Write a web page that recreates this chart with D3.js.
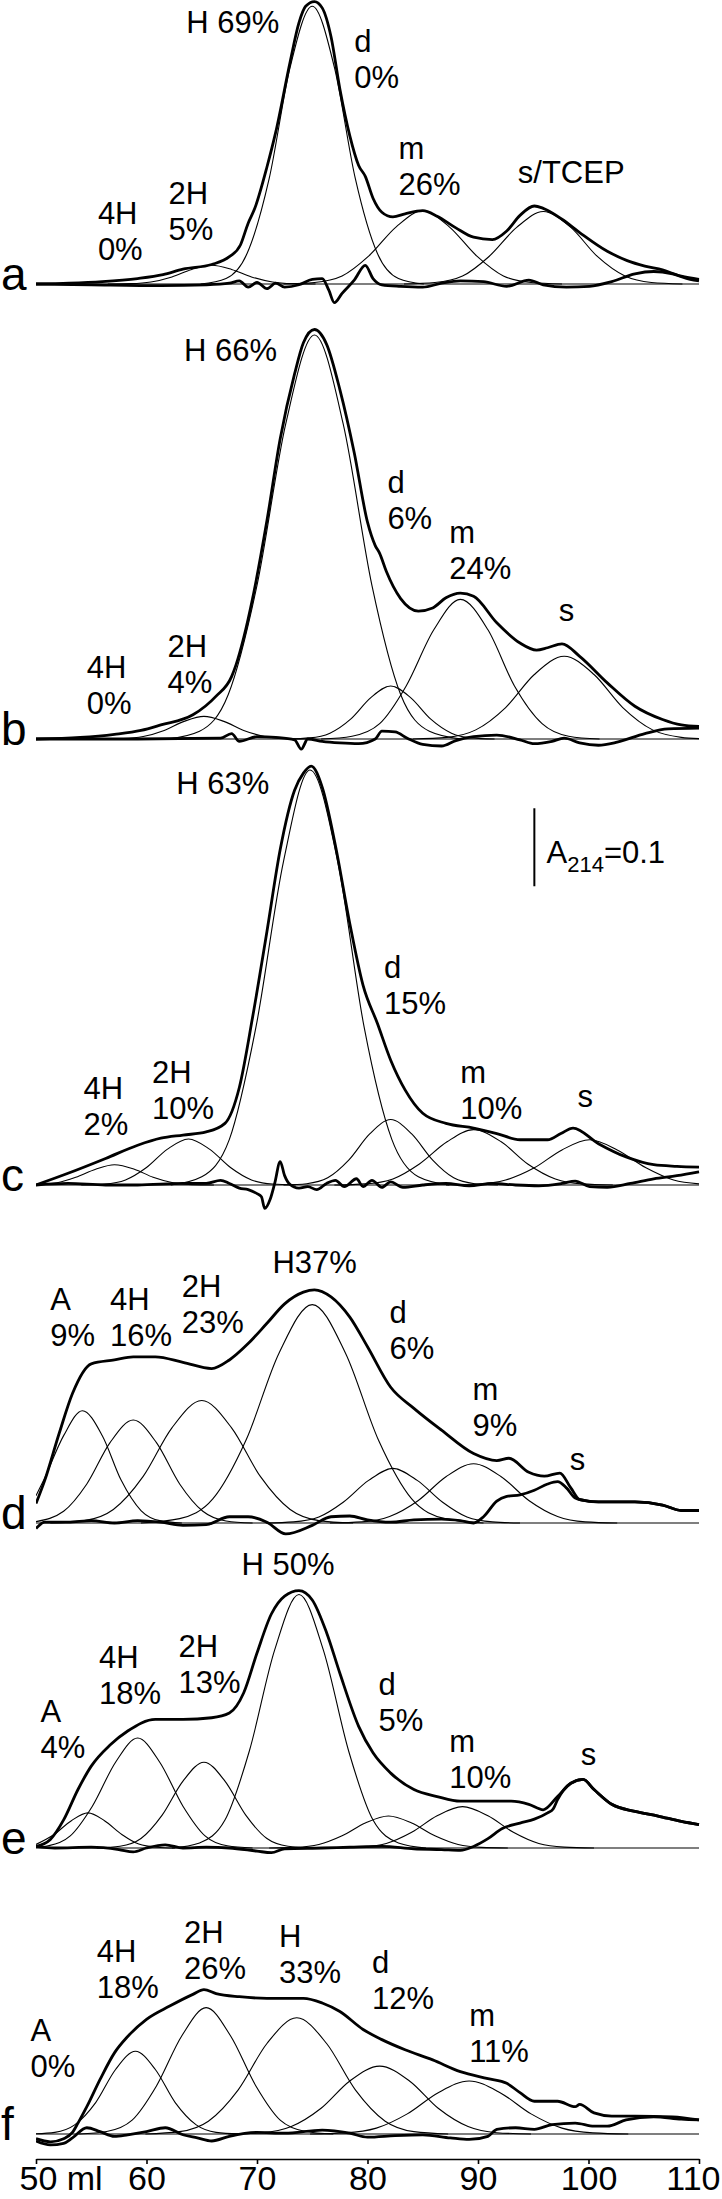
<!DOCTYPE html>
<html>
<head>
<meta charset="utf-8">
<title>SEC deconvolution a-f</title>
<script src="https://cdn.jsdelivr.net/npm/d3@7"></script>
<style>
  body { margin: 0; background: #fff; }
  svg text { font-family: "Liberation Sans", Arial, Helvetica, sans-serif; fill: #000; }
</style>
</head>
<body>
<svg id="chart" width="722" height="2199"></svg>
<script>
// elution volume (ml) vs A214 in mAU
// panel a
var totalA = [[50,0],[53,1],[56,3],[59.2,7],[61.5,12],[63.3,19],[65.9,25],[67.5,35],[68.5,50],[69.2,78],[69.8,97],[70.9,150],[71.7,195],[73,285],[73.8,335],[74.4,356],[75.2,362],[75.9,354],[76.7,317],[77.5,250],[78.4,190],[79.2,152],[79.8,138],[80.5,110],[81.3,92],[82.3,86],[83.4,90],[85,94],[86.3,87],[88,72],[89.6,60],[91.3,57],[92.6,68],[93.8,88],[95.1,100],[95.9,97],[97.6,83],[99.2,66],[101.7,42],[103.5,30],[105.1,23],[106.7,18],[108.4,10],[110,6]];
var residA = [[50,0],[55,-1],[61.3,-2],[65.4,-1],[67.5,1],[68.4,4],[69.2,-4],[70,2],[70.9,-6],[71.7,1],[72.5,-4],[73.8,-1],[75,6],[75.9,7],[76.5,-8],[77,-24],[77.7,-12],[78.8,5],[79.8,24],[80.5,7],[81.3,-1],[83,-3],[85,-4],[86.7,1],[88.4,4],[90.5,3],[92.6,-3],[94.6,5],[95.9,-1],[98,-4],[100.1,-3],[102.1,3],[104.2,13],[105.9,16],[107.6,13],[109.2,6],[110,4]];
var compsA = [
  [[56.5,0],[58.6,0.5],[60.4,2.6],[62.3,9.1],[64.1,18.7],[65.9,24],[67.7,18.7],[69.5,9.1],[71.4,2.6],[73.2,0.5],[75.3,0]],
  [[64.9,0],[67.2,7],[69.1,39],[71.1,135],[73,278],[75,356],[77,278],[78.9,135],[80.9,39],[82.8,7],[85.1,0]],
  [[72.4,0],[75.2,1.9],[77.7,10.3],[80.1,35.7],[82.6,73.3],[85,94],[87.4,73.3],[89.9,35.7],[92.3,10.3],[94.8,1.9],[97.6,0]],
  [[83.3,0],[86.1,1.9],[88.6,10.2],[91,35.3],[93.5,72.5],[95.9,93],[98.4,72.5],[100.8,35.3],[103.3,10.2],[105.7,1.9],[108.5,0]]
];
var notesA = [[["H 69%"],63.6,322],[["d","0%"],78.8,297],[["4H","0%"],55.6,77],[["2H","5%"],62.0,103],[["m","26%"],82.8,160],[["s/TCEP"],93.6,129]];

// panel b
var totalB = [[50,0],[54,2],[57.1,6],[59.5,11],[61.3,18],[64.2,31],[66.3,55],[67.7,80],[68.1,95],[68.8,130],[69.6,180],[70.9,280],[72.1,385],[73.4,468],[74.2,508],[75.2,525],[76.3,506],[77.5,448],[78.8,367],[80,278],[80.7,248],[81.1,238],[81.7,215],[83,180],[84.6,164],[85.9,168],[87.1,181],[88.4,187],[89.6,183],[91.7,149],[93.8,123],[95.3,114],[96.3,117],[97.6,122],[99.2,106],[101.7,72],[104.2,42],[106.7,25],[108.4,18],[110,16]];
var residB = [[50,0],[59.2,0],[66.7,1],[67.7,7],[68.4,-3],[70,3],[71.7,2],[73.4,-1],[74,-13],[74.6,0],[75.9,-3],[77.5,-5],[79.2,-6],[80.7,0],[81.3,10],[82.5,9],[83.6,1],[85,-7],[86.7,-9],[88,-2],[89.6,3],[91.7,5],[93.8,-1],[95.1,-6],[96.7,-3],[97.8,1],[99.2,-5],[100.9,-8],[102.6,-4],[105.1,7],[107.2,13],[110,14]];
var compsB = [
  [[55.8,0],[57.9,0.6],[59.7,3.2],[61.6,11],[63.4,22.6],[65.2,29],[67,22.6],[68.8,11],[70.7,3.2],[72.5,0.6],[74.6,0]],
  [[61.9,0],[64.8,10],[67.4,57],[70,197],[72.6,404],[75.2,518],[77.8,404],[80.4,197],[83,57],[85.6,10],[88.5,0]],
  [[72.7,0],[74.8,1.4],[76.6,7.5],[78.5,25.8],[80.3,53],[82.1,68],[83.9,53],[85.7,25.8],[87.6,7.5],[89.4,1.4],[91.5,0]],
  [[75.8,0],[78.6,3.6],[81.1,19.7],[83.5,68],[86,140],[88.4,179],[90.9,140],[93.3,68],[95.8,19.7],[98.2,3.6],[101,0]],
  [[84.1,0],[87.2,2.1],[89.8,11.7],[92.5,40.3],[95.1,82.7],[97.8,106],[100.5,82.7],[103.1,40.3],[105.8,11.7],[108.4,2.1],[110,0.5]]
];
var notesB = [[["H 66%"],63.4,485],[["d","6%"],81.8,315],[["m","24%"],87.4,251],[["s"],97.3,151],[["4H","0%"],54.6,78],[["2H","4%"],61.9,105]];

// panel c
var totalC = [[50,0],[52.9,15],[56.3,34],[59.2,51],[61.3,60],[63.3,64],[65.4,68],[67.1,79],[68.4,125],[69.6,215],[70.9,325],[72.1,430],[73.4,506],[74.2,528],[74.9,537],[75.9,510],[77.1,435],[78.4,335],[79.6,256],[80.9,207],[82.1,160],[83.4,122],[85,92],[87.1,79],[89.6,73],[91.7,66],[93.8,58],[96.3,58],[97.5,66],[98.6,73],[100.9,53],[103.4,36],[105.9,26],[108,24],[110,23]];
var residC = [[50,0],[52.9,2],[56.3,0],[59.2,0],[63.3,2],[65.4,2],[66.7,6],[67.5,2],[68.4,-4],[69.2,-6],[70,-11],[70.4,-15],[70.7,-30],[71.2,-18],[71.6,2],[72.1,30],[72.5,12],[72.9,2],[73.8,-4],[74.6,-2],[75.4,-6],[76.3,2],[77.1,6],[77.9,-2],[79,8],[79.6,-2],[80.4,6],[81.3,-3],[82.1,4],[83.2,-3],[85,0],[87.1,2],[89.2,-1],[91.3,2],[93.4,0],[95.5,-1],[97.6,2],[98.8,5],[100.1,-2],[101.7,-3],[103.8,2],[105.9,8],[108,12],[110,17]];
var compsC = [
  [[50,0.5],[51.9,2.9],[53.6,9.9],[55.4,20.3],[57.1,26],[58.9,20.3],[60.6,9.9],[62.4,2.9],[64.1,0.5],[66.1,0]],
  [[54.1,0],[56.2,1.2],[58.1,6.5],[60,22.4],[61.9,46],[63.8,59],[65.7,46],[67.6,22.4],[69.5,6.5],[71.4,1.2],[73.5,0]],
  [[62.2,0],[65,10.6],[67.5,58.5],[69.9,202],[72.4,415],[74.8,532],[77.3,415],[79.7,202],[82.2,58.5],[84.6,10.6],[87.4,0]],
  [[72.4,0],[74.5,1.7],[76.4,9.2],[78.3,31.9],[80.2,65.5],[82.1,84],[84,65.5],[85.9,31.9],[87.8,9.2],[89.7,1.7],[91.8,0]],
  [[77,0],[79.8,1.4],[82.3,7.8],[84.7,27],[87.2,55.4],[89.6,71],[92.1,55.4],[94.5,27],[97,7.8],[99.4,1.4],[102.2,0]],
  [[87.1,0],[90,1.2],[92.5,6.4],[95.1,22],[97.6,45],[100.1,58],[102.6,45],[105.2,22],[107.7,6.4],[110,1.5]]
];
var notesC = [[["H 63%"],62.7,501],[["d","15%"],81.5,265],[["4H","2%"],54.3,110],[["2H","10%"],60.5,131],[["m","10%"],88.4,131],[["s"],99.0,100]];

// panel d
var totalD = [[50,25],[50.8,55],[52.1,115],[53.3,166],[55,204],[57.1,209],[58.8,213],[60.8,213],[63.3,206],[65.9,198],[67.5,209],[69.2,230],[70.9,256],[72.5,281],[74.2,296],[75.2,299],[76.7,290],[78.4,264],[80,226],[82.1,174],[84.2,147],[86.7,119],[89.6,89],[91.7,80],[92.8,83],[94.6,65],[96,60],[97.4,64],[98.4,45],[99.2,30],[100.9,27],[104.2,27],[106.7,23],[108.4,16],[110,16]];
var residD = [[50,-7],[50.8,1],[52.9,1],[55,3],[57.1,0],[59.2,3],[61.3,1],[63.3,-3],[65.4,-2],[67.5,8],[69.2,8],[70.9,1],[72.6,-14],[75,-3],[76.7,8],[78.4,9],[80,4],[82.1,1],[84.2,4],[86.7,5],[88.4,3],[89.6,0],[90.5,8],[91.7,28],[92.6,34],[93.8,36],[95.1,42],[96.3,50],[97.2,53],[98,45],[98.8,32],[99.6,29],[100.9,27],[104.2,27],[106.7,23],[108.4,16],[110,16]];
var compsD = [
  [[50,35],[50.7,55],[52.5,112],[54.2,144],[56,112],[57.7,55],[59.5,16],[61.2,3],[63.2,0]],
  [[50,1.8],[52.5,15],[54.6,50],[56.7,103],[58.8,132],[60.9,103],[63,50],[65.1,15],[67.2,2.6],[69.6,0]],
  [[51.3,0],[54.4,3.1],[57,17.3],[59.7,59.7],[62.3,122],[65,157],[67.7,122],[70.3,59.7],[73,17.3],[75.6,3.1],[78.7,0]],
  [[59.5,0],[63,5.6],[66,30.8],[69,106],[72,218],[75,280],[78,218],[81,106],[84,30.8],[87,5.6],[90.5,0]],
  [[70.8,0],[73.3,1.4],[75.6,7.7],[77.8,26.6],[80.1,54.6],[82.3,70],[84.5,54.6],[86.8,26.6],[89,7.7],[91.3,1.4],[93.8,0]],
  [[76.6,0],[79.5,1.5],[82,8.4],[84.6,28.9],[87.1,59.3],[89.6,76],[92.1,59.3],[94.6,28.9],[97.2,8.4],[99.7,1.5],[102.6,0]]
];
var notesD = [[["H37%"],71.4,321],[["A","9%"],51.3,273],[["4H","16%"],56.7,273],[["2H","23%"],63.2,290],[["d","6%"],82.0,256],[["m","9%"],89.5,158],[["s"],98.3,68]];

// panel e
var totalE = [[50,2],[51.3,11],[52.5,36],[53.8,75],[55,105],[56.7,132],[58.3,150],[60.8,165],[63.3,165],[65.9,167],[67.5,173],[68.8,199],[70,250],[71.3,300],[72.5,323],[73.8,330],[75,318],[76.3,276],[77.5,224],[79.2,156],[80.5,122],[82.1,96],[84.2,75],[86.3,66],[88.4,60],[90.5,60],[93,60],[94.6,56],[95.9,49],[97.2,66],[98.4,83],[99.5,88],[100.5,75],[102.1,56],[104.2,47],[106.3,41],[108.4,34],[110,30]];
var residE = [[50,2],[51.7,0],[55,1],[57.5,-2],[58.8,-5],[60,0],[61.7,4],[63.3,0],[65.4,1],[67.5,0],[70,-4],[71.3,-6],[72.5,-1],[75.9,0],[78.4,1],[81.3,2],[84.2,-1],[86.7,-2],[88.4,-3],[89.6,2],[90.9,12],[92.2,25],[93.8,32],[95.1,37],[96.3,45],[96.8,50],[97.2,62],[98.4,83],[99.5,88],[100.5,75],[102.1,56],[104.2,47],[106.3,41],[108.4,34],[110,30]];
var compsE = [
  [[50,4.6],[51.6,17],[53.2,35],[54.7,45],[56.2,35],[57.8,17],[59.3,5],[60.9,1],[62.6,0]],
  [[50,0.9],[51.1,2.8],[53.1,15.5],[55.1,53.6],[57.2,110],[59.2,141],[61.2,110],[63.3,53.6],[65.3,15.5],[67.3,2.8],[69.6,0]],
  [[55.5,0],[57.6,2.2],[59.5,12.1],[61.4,41.8],[63.3,85.8],[65.2,110],[67.1,85.8],[69,41.8],[70.9,12.1],[72.8,2.2],[74.9,0]],
  [[62.3,0],[64.8,6.5],[67.1,35.8],[69.3,124],[71.6,254],[73.8,325],[76,254],[78.3,124],[80.5,35.8],[82.8,6.5],[85.3,0]],
  [[71.1,0],[73.5,0.8],[75.6,4.5],[77.7,15.6],[79.8,32],[81.9,41],[84,32],[86.1,15.6],[88.2,4.5],[90.3,0.8],[92.7,0]],
  [[76.7,0],[79.4,1.1],[81.7,5.8],[84,20.1],[86.3,41.3],[88.6,53],[90.9,41.3],[93.2,20.1],[95.5,5.8],[97.8,1.1],[100.5,0]]
];
var notesE = [[["H 50%"],68.6,350],[["A","4%"],50.4,162],[["4H","18%"],55.7,231],[["2H","13%"],62.9,245],[["d","5%"],81.0,196],[["m","10%"],87.4,123],[["s"],99.3,106]];

// panel f
var totalF = [[50,-6],[51.3,-10],[52.5,-6],[53.3,2],[53.8,14],[54.6,35],[55.8,70],[57.1,104],[58.3,125],[60,147],[62.1,164],[64.2,179],[65.2,185],[66.3,180],[68.4,176],[70.9,174],[74.2,174],[75.9,168],[77.5,157],[79.6,134],[81.3,121],[83.4,108],[85.9,95],[88.4,80],[90.9,71],[92.6,65],[93.8,53],[95.1,42],[97.2,42],[98.8,35],[99.2,38],[100.5,27],[102.1,23],[104.2,23],[107.6,22],[110,18]];
var residF = [[50,-9],[51.3,-14],[52.5,-12],[53.3,-5],[54.6,8],[55.8,3],[57.1,-3],[58.3,-1],[60,3],[61.7,8],[63.3,-1],[64.6,-5],[65.9,-9],[67.5,-3],[70,2],[72.5,1],[75.9,5],[78.4,1],[80,-4],[82.5,-2],[85,-1],[87.5,-5],[89.2,-7],[90.9,-3],[91.7,6],[93.4,8],[95.1,6],[96.7,12],[98.8,14],[100.5,10],[101.7,10],[103.4,18],[105.9,22],[108.4,19],[110,18]];
var compsF = [
  [[50,0.3],[51.7,2.1],[53.5,11.7],[55.4,40.3],[57.2,82.7],[59,106],[60.8,82.7],[62.6,40.3],[64.5,11.7],[66.3,2.1],[68.4,0]],
  [[53.9,0],[56.4,3.2],[58.7,17.8],[60.9,61.6],[63.2,126],[65.4,162],[67.6,126],[69.9,61.6],[72.1,17.8],[74.4,3.2],[76.9,0]],
  [[59.9,0],[63,3],[65.6,16.4],[68.3,56.6],[70.9,116],[73.6,149],[76.3,116],[78.9,56.6],[81.6,16.4],[84.2,3],[87.3,0]],
  [[67.4,0],[70.5,1.7],[73.1,9.6],[75.8,33],[78.4,68],[81.1,87],[83.8,68],[86.4,33],[89.1,9.6],[91.7,1.7],[94.8,0]],
  [[74.8,0],[78,1.4],[80.8,7.5],[83.6,25.8],[86.4,53],[89.2,68],[92,53],[94.8,25.8],[97.6,7.5],[100.4,1.4],[103.6,0]]
];
var notesF = [[["4H","18%"],55.5,221],[["2H","26%"],63.4,245],[["H","33%"],72.0,240],[["d","12%"],80.4,206],[["m","11%"],89.2,138],[["A","0%"],49.5,119]];

var panelNames = ["a","b","c","d","e","f"];
var xTicks = [50,60,70,80,90,100,110];

// layout
var panelBase = [284,739,1185,1523,1848,2134];
var pxPer100 = 78;     // A214 = 0.1 bar length
var axisY = 2159;

var svg = d3.select("#chart");
var x = d3.scaleLinear().domain([50,110]).range([36,699]);

svg.append("defs").append("clipPath").attr("id","plot")
  .append("rect").attr("x",x(50)).attr("y",0).attr("width",x(110)-x(50)+1).attr("height",2199);

var totals = [totalA,totalB,totalC,totalD,totalE,totalF];
var resids = [residA,residB,residC,residD,residE,residF];
var comps = [compsA,compsB,compsC,compsD,compsE,compsF];
var notes = [notesA,notesB,notesC,notesD,notesE,notesF];

panelNames.forEach(function(name, i) {
  var base = panelBase[i];
  var y = d3.scaleLinear().domain([0,100]).range([base, base - pxPer100]);
  var line = d3.line().x(function(d){ return x(d[0]); }).y(function(d){ return y(d[1]); })
    .curve(d3.curveMonotoneX);

  var g = svg.append("g").attr("clip-path","url(#plot)");

  g.append("line")
    .attr("x1", x(50)).attr("x2", x(110))
    .attr("y1", y(0)).attr("y2", y(0))
    .attr("stroke","#000").attr("stroke-width",1.1);

  comps[i].forEach(function(c) {
    g.append("path").attr("d", line(c))
      .attr("fill","none").attr("stroke","#000").attr("stroke-width",1.1);
  });

  g.append("path").attr("d", line(resids[i]))
    .attr("fill","none").attr("stroke","#000").attr("stroke-width",2.8)
    .attr("stroke-linejoin","round");
  g.append("path").attr("d", line(totals[i]))
    .attr("fill","none").attr("stroke","#000").attr("stroke-width",2.8)
    .attr("stroke-linejoin","round");

  // panel letter
  svg.append("text").attr("x",1).attr("y",base + 6)
    .style("font-size","46px").text(name);

  // peak labels
  notes[i].forEach(function(n) {
    var t = svg.append("text")
      .attr("x", x(n[1])).attr("y", y(n[2]))
      .style("font-size","31px");
    n[0].forEach(function(s, k) {
      t.append("tspan").attr("x", x(n[1])).attr("dy", k === 0 ? 0 : 36).text(s);
    });
  });

  // scale bar in panel c
  if (name === "c") {
    svg.append("line")
      .attr("x1", x(95.1)).attr("x2", x(95.1))
      .attr("y1", y(383)).attr("y2", y(483))
      .attr("stroke","#000").attr("stroke-width",2);
    var sb = svg.append("text").attr("x", x(96.2)).attr("y", y(413))
      .style("font-size","31px");
    sb.append("tspan").text("A");
    sb.append("tspan").attr("dy",9).style("font-size","22px").text("214");
    sb.append("tspan").attr("dy",-9).text("=0.1");
  }
});

// x axis
var axis = d3.axisBottom(x).tickValues(xTicks).tickSize(5).tickSizeOuter(0).tickPadding(2)
  .tickFormat(function(d){ return d === 50 ? "50 ml" : d; });
var ax = svg.append("g").attr("transform","translate(0," + axisY + ")").call(axis);
ax.select(".domain").attr("stroke-width",1.6);
ax.selectAll(".tick line").attr("stroke-width",1.6);
ax.selectAll(".tick text")
  .style("font-size","34px")
  .style("font-family","'Liberation Sans', Arial, sans-serif");
ax.selectAll(".tick text").filter(function(d){ return d === 50; })
  .attr("text-anchor","start").attr("x",-17);
// keep the last label inside the page
ax.selectAll(".tick text").filter(function(d){ return d === 110; })
  .attr("text-anchor","end").attr("x",21);
</script>
</body>
</html>
